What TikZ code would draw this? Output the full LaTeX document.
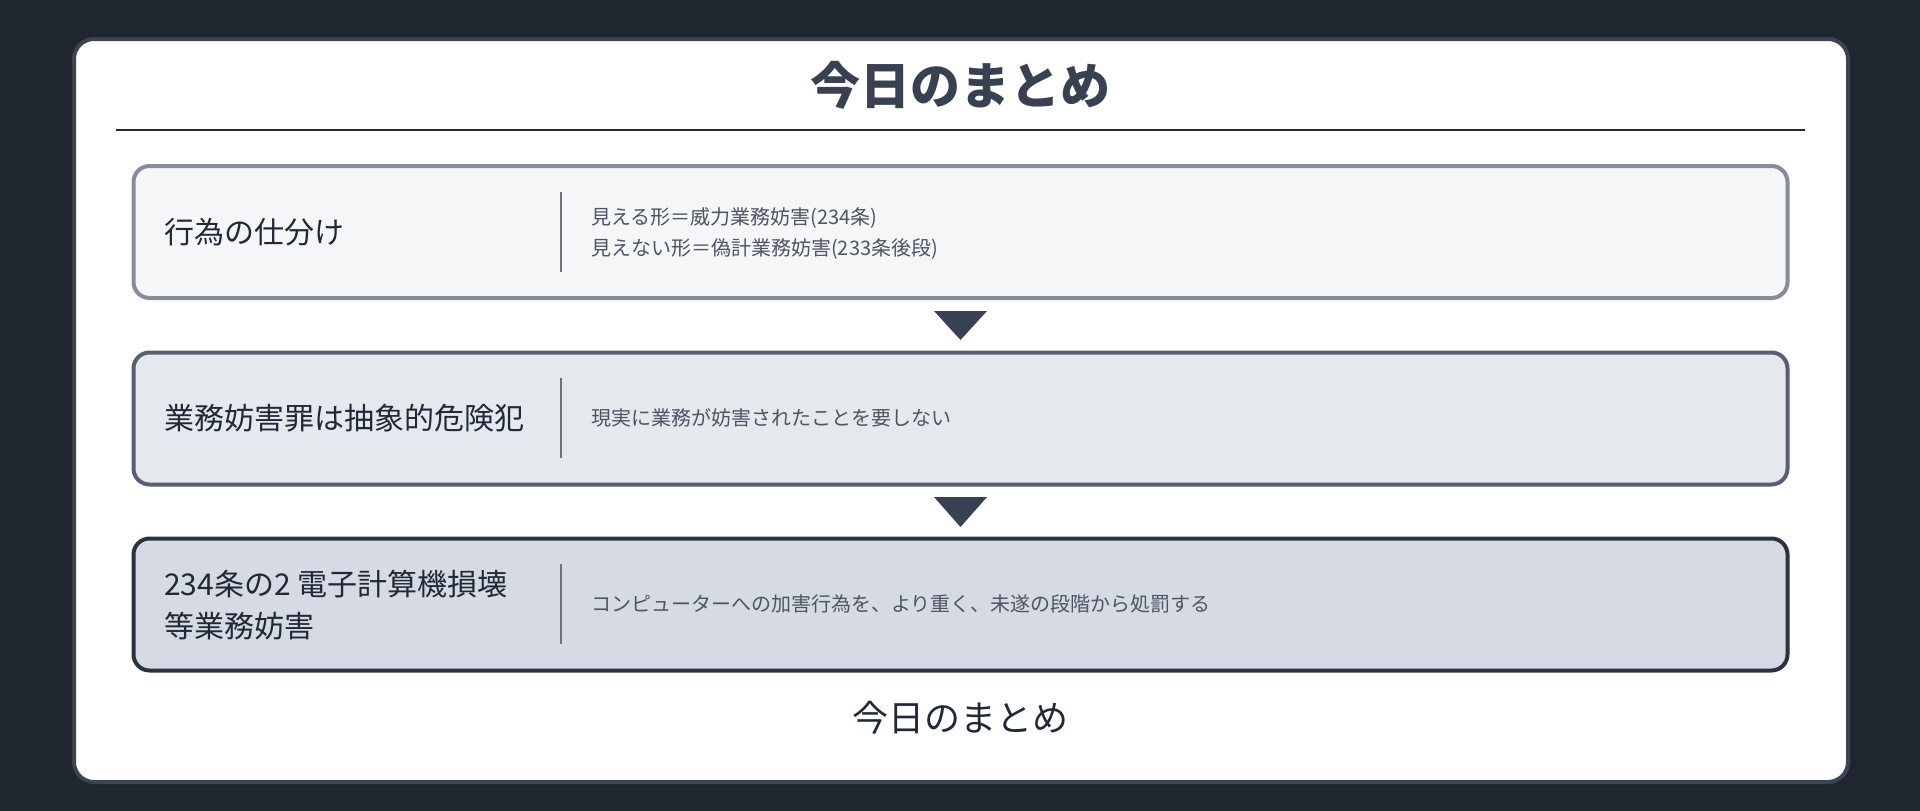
\documentclass[tikz,border=0pt]{standalone}
\usepackage{fontspec}
\setmainfont{Noto Sans CJK JP}
\definecolor{bgdark}{HTML}{1F2630}
\definecolor{cardline}{HTML}{3B4452}
\definecolor{inkdark}{HTML}{1F2937}
\definecolor{inkgray}{HTML}{4B5563}
\definecolor{titleink}{HTML}{374151}
\definecolor{lineA}{HTML}{858D9A}
\definecolor{fillA}{HTML}{F5F6F8}
\definecolor{lineB}{HTML}{566072}
\definecolor{fillB}{HTML}{E5E8ED}
\definecolor{lineC}{HTML}{2B3340}
\definecolor{fillC}{HTML}{D5DAE3}
\definecolor{divgray}{HTML}{6B7280}

\begin{document}
\begin{tikzpicture}[x=1pt,y=-1pt,
    stepbox/.style={draw, line width=4pt, rounded corners=16pt, minimum width=1654pt, minimum height=132pt, inner sep=0pt},
    headtext/.style={anchor=west, inner sep=0pt, align=left, text=inkdark, font=\fontsize{30}{42}\selectfont},
    desctext/.style={anchor=west, inner sep=0pt, align=left, text=inkgray, font=\fontsize{20}{31}\selectfont},
    divider/.style={line width=2.5pt, draw=divgray},
    downtip/.style={fill=titleink}]
                    \useasboundingbox (0,0) rectangle (1920,811);
                    \fill[bgdark] (0,0) rectangle (1920,811);
                    \draw[cardline, line width=4pt, fill=white, rounded corners=20pt] (74,39) rectangle (1848,782);

                    \node[font=\fontsize{50}{60}\selectfont\bfseries, text=titleink] (T) at (960,85) {今日のまとめ};
                    \draw[line width=2.7pt, inkdark] (116,130) -- (1805,130);

                    \node[stepbox, draw=lineA, fill=fillA] (B1) at (960.5,232) {};
                    \node[stepbox, draw=lineB, fill=fillB] (B2) at (960.5,418.5) {};
                    \node[stepbox, draw=lineC, fill=fillC] (B3) at (960.5,604.5) {};

                    \draw[divider] (561,192) -- (561,272);
                    \draw[divider] (561,378) -- (561,458);
                    \draw[divider] (561,564) -- (561,644);

                    \node[headtext] (L1) at (164,232) {行為の仕分け};
                    \node[headtext] (L2) at (164,418) {業務妨害罪は抽象的危険犯};
                    \node[headtext] (L3) at (164,605) {234条の2 電子計算機損壊\\等業務妨害};

                    \node[desctext] (D1) at (591,233.5) {見える形＝威力業務妨害(234条)\\見えない形＝偽計業務妨害(233条後段)};
                    \node[desctext] (D2) at (591,418) {現実に業務が妨害されたことを要しない};
                    \node[desctext] (D3) at (591,604) {コンピューターへの加害行為を、より重く、未遂の段階から処罰する};

                    \fill[downtip] (934,311) -- (987,311) -- (960.5,340) -- cycle;
                    \fill[downtip] (934,497) -- (987,497) -- (960.5,527) -- cycle;

                    \node[font=\fontsize{36}{44}\selectfont, text=inkdark] (F) at (960,718) {今日のまとめ};
                \end{tikzpicture}
\end{document}
